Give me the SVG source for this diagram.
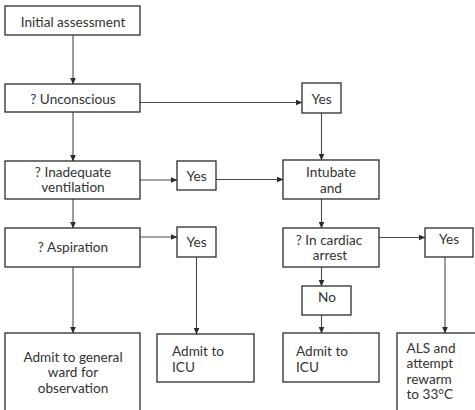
<svg xmlns="http://www.w3.org/2000/svg" width="475" height="410" viewBox="0 0 475 410">
  <style>
    .box { fill: #ffffff; stroke: #2b2b2b; stroke-width: 1.3; }
    .line { fill: none; stroke: #4a4a4a; stroke-width: 1.1; }
    text { font-family: Lato, "Open Sans", sans-serif; font-size: 13.6px; fill: #333333; }
    .c { text-anchor: middle; }
  </style>
  <defs>
    <marker id="arrow" markerWidth="7" markerHeight="6" refX="6.5" refY="3" orient="auto" markerUnits="userSpaceOnUse">
      <path d="M0,0 L7,3 L0,6 Z" fill="#2b2b2b"/>
    </marker>
  </defs>
  <rect width="475" height="410" fill="#ffffff"/>

  <g id="connectors">
    <line class="line" x1="73" y1="35" x2="73" y2="84" marker-end="url(#arrow)"/>
    <line class="line" x1="140" y1="102.5" x2="302" y2="102.5" marker-end="url(#arrow)"/>
    <line class="line" x1="73" y1="112" x2="73" y2="161" marker-end="url(#arrow)"/>
    <line class="line" x1="321.5" y1="113" x2="321.5" y2="160" marker-end="url(#arrow)"/>
    <line class="line" x1="140" y1="180" x2="177" y2="180" marker-end="url(#arrow)"/>
    <line class="line" x1="216" y1="179.5" x2="283" y2="179.5" marker-end="url(#arrow)"/>
    <line class="line" x1="73" y1="199" x2="73" y2="228" marker-end="url(#arrow)"/>
    <line class="line" x1="140" y1="237" x2="177" y2="237" marker-end="url(#arrow)"/>
    <line class="line" x1="321.5" y1="199" x2="321.5" y2="228" marker-end="url(#arrow)"/>
    <line class="line" x1="379" y1="237.5" x2="425" y2="237.5" marker-end="url(#arrow)"/>
    <line class="line" x1="321.5" y1="267" x2="321.5" y2="286" marker-end="url(#arrow)"/>
    <line class="line" x1="73" y1="267" x2="73" y2="333" marker-end="url(#arrow)"/>
    <line class="line" x1="196.5" y1="257" x2="196.5" y2="334" marker-end="url(#arrow)"/>
    <line class="line" x1="321.5" y1="315" x2="321.5" y2="333" marker-end="url(#arrow)"/>
    <line class="line" x1="445" y1="257" x2="445" y2="333" marker-end="url(#arrow)"/>
  </g>

  <g id="initial-assessment">
    <rect class="box" x="5" y="6" width="135" height="29"/>
    <text class="c" x="73" y="26.5">Initial assessment</text>
  </g>
  <g id="unconscious">
    <rect class="box" x="5" y="84" width="135" height="28"/>
    <text class="c" x="73" y="103.5">? Unconscious</text>
  </g>
  <g id="yes-unconscious">
    <rect class="box" x="302" y="83" width="39" height="30"/>
    <text class="c" x="321.5" y="104">Yes</text>
  </g>
  <g id="inadequate-ventilation">
    <rect class="box" x="5" y="161" width="135" height="38"/>
    <text class="c" x="73" y="176.5">? Inadequate</text>
    <text class="c" x="73" y="192.3">ventilation</text>
  </g>
  <g id="yes-ventilation">
    <rect class="box" x="177" y="161" width="39" height="29"/>
    <text class="c" x="196.5" y="180.7">Yes</text>
  </g>
  <g id="intubate">
    <rect class="box" x="283" y="160" width="96" height="39"/>
    <text class="c" x="331" y="177.3">Intubate</text>
    <text class="c" x="331" y="192.7">and</text>
  </g>
  <g id="aspiration">
    <rect class="box" x="5" y="228" width="135" height="39"/>
    <text class="c" x="73" y="252.3">? Aspiration</text>
  </g>
  <g id="yes-aspiration">
    <rect class="box" x="177" y="227" width="39" height="30"/>
    <text class="c" x="196.5" y="247.3">Yes</text>
  </g>
  <g id="cardiac-arrest">
    <rect class="box" x="283" y="228" width="96" height="39"/>
    <text class="c" x="329" y="245">? In cardiac</text>
    <text class="c" x="330" y="260">arrest</text>
  </g>
  <g id="yes-cardiac">
    <rect class="box" x="425" y="228" width="48" height="29"/>
    <text class="c" x="449" y="244.3">Yes</text>
  </g>
  <g id="no-cardiac">
    <rect class="box" x="302" y="286" width="49" height="29"/>
    <text class="c" x="327" y="301.7">No</text>
  </g>
  <g id="admit-general-ward">
    <rect class="box" x="5" y="333" width="135" height="90"/>
    <text class="c" x="73" y="361.7">Admit to general</text>
    <text class="c" x="73" y="377.3">ward for</text>
    <text class="c" x="73" y="392.7">observation</text>
  </g>
  <g id="admit-icu-aspiration">
    <rect class="box" x="157" y="334" width="97" height="48"/>
    <text x="172" y="356.3">Admit to</text>
    <text x="172" y="371.7">ICU</text>
  </g>
  <g id="admit-icu-cardiac">
    <rect class="box" x="283" y="333" width="96" height="49"/>
    <text x="296" y="356.3">Admit to</text>
    <text x="296" y="371.7">ICU</text>
  </g>
  <g id="als-rewarm">
    <rect class="box" x="397" y="333" width="90" height="90"/>
    <text x="406.5" y="352.5">ALS and</text>
    <text x="406.5" y="368">attempt</text>
    <text x="406.5" y="383.5">rewarm</text>
    <text x="406.5" y="399">to 33°C</text>
  </g>
</svg>
